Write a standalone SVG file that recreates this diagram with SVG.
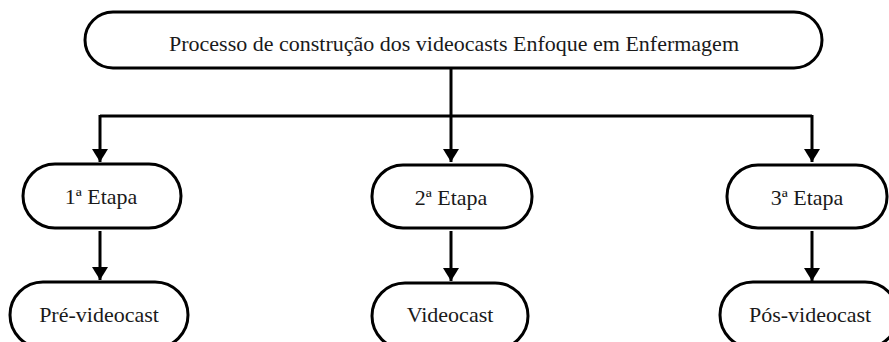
<svg xmlns="http://www.w3.org/2000/svg" width="889" height="342" viewBox="0 0 889 342">
<style>
.box{fill:#fff;stroke:#000;stroke-width:3}
.lbl{font-family:"Liberation Serif","Times New Roman",serif;font-size:22px;fill:#1a1a1a;text-anchor:middle}
.ln{fill:none;stroke:#000;stroke-width:3}
</style>
<defs>
<marker id="ah" markerUnits="userSpaceOnUse" markerWidth="16" markerHeight="18" refX="13" refY="8" orient="auto">
<path d="M0,0 L13,8 L0,16 Z" fill="#000"/>
</marker>
</defs>
<rect width="889" height="342" fill="#fff"/>
<g id="connectors">
<path class="ln" d="M451,68 V162" marker-end="url(#ah)"/>
<path class="ln" d="M100,116 H812"/>
<path class="ln" d="M100,115 V162" marker-end="url(#ah)"/>
<path class="ln" d="M812,115 V162" marker-end="url(#ah)"/>
<path class="ln" d="M100,231 V280" marker-end="url(#ah)"/>
<path class="ln" d="M451,231 V281" marker-end="url(#ah)"/>
<path class="ln" d="M812,231 V281" marker-end="url(#ah)"/>
</g>
<g id="title">
<rect class="box" x="85" y="12" width="737" height="56" rx="28"/>
<text class="lbl" x="454" y="51">Processo de construção dos videocasts Enfoque em Enfermagem</text>
</g>
<g id="etapa1">
<rect class="box" x="23" y="164" width="158" height="64" rx="32"/>
<text class="lbl" x="101" y="204">1ª Etapa</text>
</g>
<g id="etapa2">
<rect class="box" x="372" y="165" width="160" height="63" rx="31"/>
<text class="lbl" x="451" y="205">2ª Etapa</text>
</g>
<g id="etapa3">
<rect class="box" x="727" y="165" width="160" height="63" rx="31"/>
<text class="lbl" x="807" y="205">3ª Etapa</text>
</g>
<g id="previdecast">
<rect class="box" x="10" y="282" width="178" height="66" rx="33"/>
<text class="lbl" x="99" y="322">Pré-videocast</text>
</g>
<g id="videocast">
<rect class="box" x="372" y="283" width="156" height="66" rx="33"/>
<text class="lbl" x="450" y="322">Videocast</text>
</g>
<g id="posvideocast">
<rect class="box" x="720" y="282" width="178" height="66" rx="33"/>
<text class="lbl" x="810" y="322">Pós-videocast</text>
</g>
</svg>
